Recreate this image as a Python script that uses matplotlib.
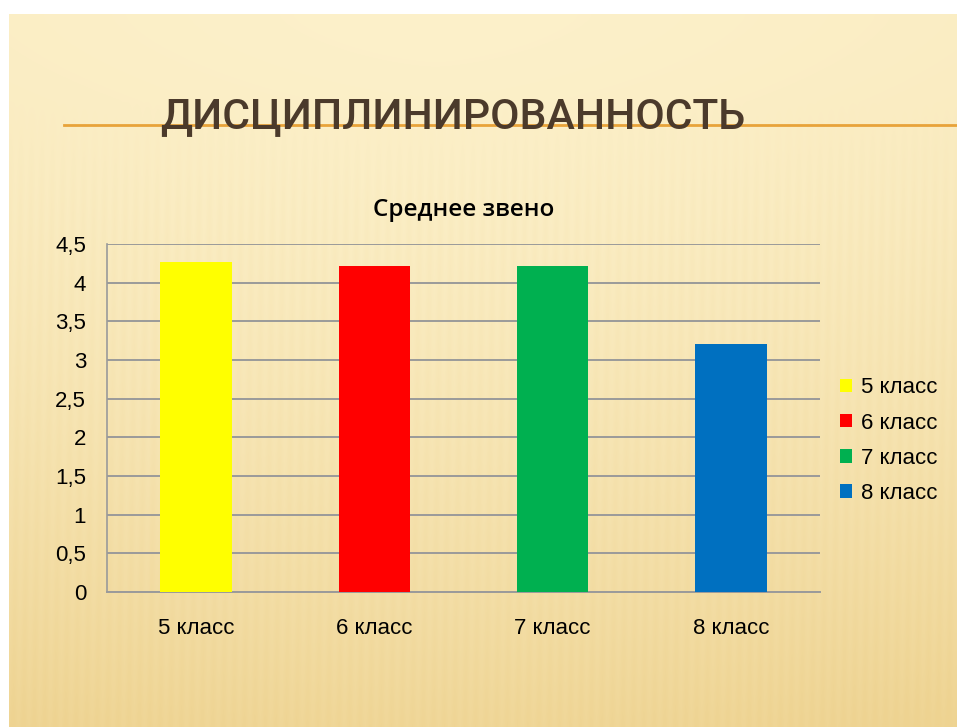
import numpy as np
import matplotlib.pyplot as plt

# Datos
clases = ['5 класс', '6 класс', '7 класс', '8 класс']
valores = [4.27, 4.22, 4.21, 3.21]
colores = ['#FFFF00', '#FF0000', '#00B050', '#0070C0']
ticks_y = [0, 0.5, 1, 1.5, 2, 2.5, 3, 3.5, 4, 4.5]
etiquetas_y = ['0', '0,5', '1', '1,5', '2', '2,5', '3', '3,5', '4', '4,5']

plt.rcParams['font.family'] = ['Liberation Sans', 'DejaVu Sans']

fig = plt.figure(figsize=(9.57, 7.27), dpi=100)
fig.patch.set_facecolor('white')

# Fondo del diapositivo (degradado beige con rayas suaves)
bg = fig.add_axes([9 / 957, 0, 1 - 9 / 957, 1 - 14 / 727], zorder=-10)
h, w = 360, 480
yy, xx = np.mgrid[0:1:h * 1j, 0:1:w * 1j]
claro = np.array([253, 242, 205]) / 255
oscuro = np.array([238, 211, 145]) / 255
t = np.clip(0.05 + 0.85 * yy ** 1.5 + 0.25 * np.abs(xx - 0.45) ** 1.5, 0, 1)
mezcla = np.clip((yy - 0.12) / 0.15, 0, 1)
rayas = 0.04 * np.sin(xx * 2 * np.pi * 90 + yy * 6) * mezcla
t = np.clip(t + rayas, 0, 1)
img = claro[None, None, :] * (1 - t[..., None]) + oscuro[None, None, :] * t[..., None]
bg.imshow(img, aspect='auto', extent=[0, 1, 0, 1], origin='upper', interpolation='bilinear')
bg.axis('off')

# Título del diapositivo (ajustado al ancho del original)
titulo = fig.text(160 / 957, 1 - 128 / 727, 'ДИСЦИПЛИНИРОВАННОСТЬ', fontsize=38,
                  family=['Roboto', 'DejaVu Sans'], fontweight='medium',
                  color='#4B3A2B', ha='left', va='baseline', zorder=5)
fig.canvas.draw()
ancho = titulo.get_window_extent().width
titulo.set_fontsize(38 * 585 / ancho)
fig.add_artist(plt.Line2D([64 / 957, 1], [1 - 125 / 727, 1 - 125 / 727],
                          color='#E8A33A', linewidth=2, zorder=4))

# Gráfico
ax = fig.add_axes([107 / 957, 1 - 592 / 727, (820 - 107) / 957, (592 - 244) / 727])
ax.set_facecolor('none')
x = np.arange(len(clases))
for i in range(len(clases)):
    ax.bar(x[i], valores[i], width=0.40, color=colores[i], label=clases[i], zorder=3)

ax.set_xlim(-0.5, 3.5)
ax.set_ylim(0, 4.5)
ax.set_yticks(ticks_y)
ax.set_yticklabels(etiquetas_y)
ax.set_xticks(x)
ax.set_xticklabels(clases)
ax.tick_params(axis='both', length=0, labelsize=16, colors='black')
ax.tick_params(axis='x', pad=19)
ax.tick_params(axis='y', pad=15)
ax.grid(axis='y', color='#9A9A9A', linewidth=1.4, zorder=0)
for s in ['top', 'right']:
    ax.spines[s].set_visible(False)
ax.spines['left'].set_color('#9A9A9A')
ax.spines['bottom'].set_color('#9A9A9A')
ax.spines['left'].set_linewidth(1.2)
ax.spines['bottom'].set_linewidth(1.4)

ax.set_title('Среднее звено', fontsize=17.5, pad=20, family=['Open Sans', 'DejaVu Sans'],
             fontweight='semibold')

ax.legend(loc='center left', bbox_to_anchor=(1.0, 0.435), frameon=False, fontsize=16,
          handlelength=0.55, handleheight=0.55, handletextpad=0.4, labelspacing=0.64,
          borderaxespad=0.5)

fig.savefig('out.png', dpi=100)
